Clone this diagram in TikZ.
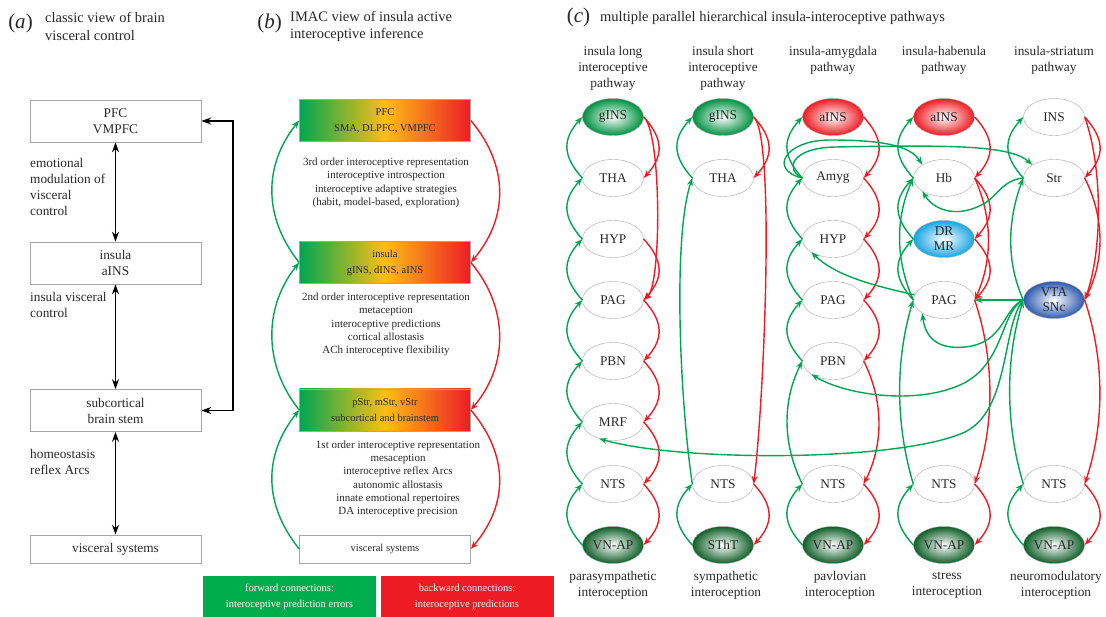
\documentclass[tikz,border=0pt]{standalone}
\usepackage{fontspec}
\setmainfont{Liberation Serif}
\usepackage{tikz}
\usetikzlibrary{shapes.geometric,arrows.meta}

\definecolor{igreen}{RGB}{0,166,81}
\definecolor{ired}{RGB}{237,28,36}
\definecolor{iyellow}{RGB}{253,190,20}
\definecolor{keygreen}{RGB}{0,173,76}
\definecolor{insgreen}{RGB}{0,145,65}
\definecolor{vngreen}{RGB}{15,95,40}
\definecolor{drblue}{RGB}{25,165,225}
\definecolor{vtablue}{RGB}{45,90,175}
\definecolor{txtgray}{RGB}{40,40,40}

\newcommand{\tagfont}{\fontsize{21}{22}\selectfont}
\newcommand{\ttlfont}{\fontsize{14.5}{17.5}\selectfont}
\newcommand{\labfont}{\fontsize{13.3}{16}\selectfont}
\newcommand{\twofont}{\fontsize{13.3}{15}\selectfont}
\newcommand{\boxfont}{\fontsize{10.5}{16}\selectfont}
\newcommand{\notefont}{\fontsize{11}{13.3}\selectfont}

\begin{document}
\begin{tikzpicture}[x=1pt,y=-1pt,
    tag/.style={font=\tagfont, inner sep=0pt, text=txtgray},
    ttl/.style={font=\ttlfont, align=left, anchor=west, inner sep=0pt, text=txtgray},
    lab/.style={font=\labfont, align=center, inner sep=0pt, text=txtgray},
    side/.style={font=\labfont, align=left, anchor=north west, inner sep=0pt, text=txtgray},
    note/.style={font=\notefont, align=center, inner sep=0pt, text=txtgray},
    abox/.style={draw=gray!70, line width=0.6pt, minimum width=171pt, minimum height=42pt,
        inner sep=0pt, align=center, font=\labfont, text=txtgray},
    gbox/.style={abox, font=\boxfont, left color=igreen, right color=ired, middle color=iyellow},
    key/.style={minimum width=173pt, minimum height=41pt, inner sep=0pt, align=center,
        font=\boxfont, text=white},
    area/.style={ellipse, draw=gray!70, line width=0.4pt, minimum width=61pt, minimum height=37pt,
        inner sep=0pt, align=center, font=\labfont, text=txtgray},
    gshade/.style={inner color=white, outer color=insgreen},
    dshade/.style={inner color=white, outer color=vngreen},
    rshade/.style={inner color=white, outer color=ired},
    lbshade/.style={inner color=white, outer color=drblue, font=\twofont},
    bshade/.style={inner color=white, outer color=vtablue, font=\twofont},
    both/.style={line width=1.8pt, {Stealth[length=10pt,width=7pt]}-{Stealth[length=10pt,width=7pt]}},
    fwd/.style={draw=igreen, line width=1.4pt, -{Stealth[length=8pt,width=6pt]}},
    bwd/.style={draw=ired, line width=1.4pt, -{Stealth[length=8pt,width=6pt]}}]
    \useasboundingbox (0,0) rectangle (1106,617);

    %%% (a) CLASSIC VIEW %%%
    \node[tag] (taga) at (20.5,23) {(\textit{a})};
    \node[ttl] (ttla) at (45,26.5) {classic view of brain\\visceral control};
    \node[abox] (pfca) at (115.5,121) {PFC\\VMPFC};
    \node[abox] (insa) at (115.5,263) {insula\\aINS};
    \node[abox] (suba) at (115.5,410.5) {subcortical\\brain stem};
    \node[abox, minimum height=28pt] (visa) at (115.5,549) {visceral systems};
    \node[side] (emo) at (30,158) {emotional\\modulation of\\visceral\\control};
    \node[side] (insctl) at (30,292) {insula visceral\\control};
    \node[side] (homeo) at (30,449) {homeostasis\\reflex Arcs};
    % arrows %
    \draw[both] (pfca) -- (insa);
    \draw[both] (insa) -- (suba);
    \draw[both] (suba) -- (visa);
    \draw[both] (pfca.east) -- ++(32,0) |- (suba.east);

    %%% (b) IMAC VIEW %%%
    \node[tag] (tagb) at (269.5,23) {(\textit{b})};
    \node[ttl] (ttlb) at (290,26.5) {IMAC view of insula active\\interoceptive inference};
    \node[gbox] (pfcb) at (385,120.5) {PFC\\SMA, DLPFC, VMPFC};
    \node[gbox] (insb) at (385,262.5) {insula\\gINS, dINS, aINS};
    \node[gbox] (subb) at (385,410) {pStr, mStr, vStr\\subcortical and brainstem};
    \node[abox, font=\boxfont, minimum height=28pt] (visb) at (385,549) {visceral systems};
    \node[note] (third) at (386,183) {3rd order interoceptive representation\\interoceptive introspection\\interoceptive adaptive strategies\\(habit, model-based, exploration)};
    \node[note] (second) at (386,324.5) {2nd order interoceptive representation\\metaception\\interoceptive predictions\\cortical allostasis\\ACh interoceptive flexibility};
    \node[note] (first) at (398,479) {1st order interoceptive representation\\mesaception\\interoceptive reflex Arcs\\autonomic allostasis\\innate emotional repertoires\\DA interoceptive precision};
    % loops %
    \draw[fwd] (insb.west) .. controls +(-36,-45) and +(-36,45) .. (pfcb.west);
    \draw[fwd] (subb.west) .. controls +(-36,-45) and +(-36,45) .. (insb.west);
    \draw[fwd] (visb.west) .. controls +(-36,-45) and +(-36,45) .. (subb.west);
    \draw[bwd] (pfcb.east) .. controls +(38,45) and +(38,-45) .. (insb.east);
    \draw[bwd] (insb.east) .. controls +(38,45) and +(38,-45) .. (subb.east);
    \draw[bwd] (subb.east) .. controls +(38,45) and +(38,-45) .. (visb.east);
    % legend %
    \node[key, fill=keygreen] (fwdkey) at (289.5,596.5) {forward connections:\\interoceptive prediction errors};
    \node[key, fill=ired] (bwdkey) at (467,596.5) {backward connections:\\interoceptive predictions};

    %%% (c) PARALLEL PATHWAYS %%%
    \node[tag] (tagc) at (578.5,17) {(\textit{c})};
    \node[ttl] (ttlc) at (600,18) {multiple parallel hierarchical insula-interoceptive pathways};
    % headers %
    \node[lab] (head1) at (613,68) {insula long\\interoceptive\\pathway};
    \node[lab] (head2) at (723,68) {insula short\\interoceptive\\pathway};
    \node[lab] (head3) at (833,60) {insula-amygdala\\pathway};
    \node[lab] (head4) at (944,60) {insula-habenula\\pathway};
    \node[lab] (head5) at (1054,60) {insula-striatum\\pathway};
    \node[lab] (foot1) at (613,585.5) {parasympathetic\\interoception};
    \node[lab] (foot2) at (726,585.5) {sympathetic\\interoception};
    \node[lab] (foot3) at (840,585.5) {pavlovian\\interoception};
    \node[lab] (foot4) at (947,585.5) {stress\\interoception};
    \node[lab] (foot5) at (1056,585.5) {neuromodulatory\\interoception};
    % column 1 %
    \node[area, gshade] (g1) at (613,117) {gINS};
    \node[area] (tha1) at (613,178) {THA};
    \node[area] (hyp1) at (613,239) {HYP};
    \node[area] (pag1) at (613,300) {PAG};
    \node[area] (pbn1) at (613,361) {PBN};
    \node[area] (mrf1) at (613,422) {MRF};
    \node[area] (nts1) at (613,484) {NTS};
    \node[area, dshade] (vn1) at (613,545) {VN-AP};
    % column 2 %
    \node[area, gshade] (g2) at (723,117) {gINS};
    \node[area] (tha2) at (723,178) {THA};
    \node[area] (nts2) at (723,484) {NTS};
    \node[area, dshade] (st2) at (723,545) {SThT};
    % column 3 %
    \node[area, rshade] (ains3) at (833,117) {aINS};
    \node[area] (amyg3) at (833,178) {Amyg};
    \node[area] (hyp3) at (833,239) {HYP};
    \node[area] (pag3) at (833,300) {PAG};
    \node[area] (pbn3) at (833,361) {PBN};
    \node[area] (nts3) at (833,484) {NTS};
    \node[area, dshade] (vn3) at (833,545) {VN-AP};
    % column 4 %
    \node[area, rshade] (ains4) at (944,117) {aINS};
    \node[area] (hb4) at (944,178) {Hb};
    \node[area, lbshade] (dr4) at (944,239) {DR\\MR};
    \node[area] (pag4) at (944,300) {PAG};
    \node[area] (nts4) at (944,484) {NTS};
    \node[area, dshade] (vn4) at (944,545) {VN-AP};
    % column 5 %
    \node[area] (ins5) at (1054,117) {INS};
    \node[area] (str5) at (1054,178) {Str};
    \node[area, bshade] (vta5) at (1054,300) {VTA\\SNc};
    \node[area] (nts5) at (1054,484) {NTS};
    \node[area, dshade] (vn5) at (1054,545) {VN-AP};

    % column 1 connections %
    \draw[fwd] (tha1.west) .. controls +(-20,-22) and +(-20,22) .. (g1.west);
    \draw[fwd] (hyp1.west) .. controls +(-20,-22) and +(-20,22) .. (tha1.west);
    \draw[fwd] (pag1.west) .. controls +(-20,-22) and +(-20,22) .. (hyp1.west);
    \draw[fwd] (pbn1.west) .. controls +(-20,-22) and +(-20,22) .. (pag1.west);
    \draw[fwd] (mrf1.west) .. controls +(-20,-22) and +(-20,22) .. (pbn1.west);
    \draw[fwd] (nts1.west) .. controls +(-20,-22) and +(-20,22) .. (mrf1.west);
    \draw[fwd] (vn1.west) .. controls +(-20,-22) and +(-20,22) .. (nts1.west);
    \draw[bwd] (g1.east) .. controls +(20,22) and +(20,-22) .. (tha1.east);
    \draw[bwd] (g1.east) .. controls +(18,15) and +(18,-15) .. (pag1.east);
    \draw[bwd] (hyp1.east) .. controls +(20,22) and +(20,-22) .. (pag1.east);
    \draw[bwd] (pag1.east) .. controls +(20,22) and +(20,-22) .. (pbn1.east);
    \draw[bwd] (pbn1.east) .. controls +(20,22) and +(20,-22) .. (mrf1.east);
    \draw[bwd] (mrf1.east) .. controls +(20,22) and +(20,-22) .. (nts1.east);
    \draw[bwd] (nts1.east) .. controls +(20,22) and +(20,-22) .. (vn1.east);
    % column 2 connections %
    \draw[fwd] (tha2.west) .. controls +(-20,-22) and +(-20,22) .. (g2.west);
    \draw[fwd] (nts2.west) .. controls +(-12,-80) and +(-20,60) .. (tha2.west);
    \draw[fwd] (st2.west) .. controls +(-20,-22) and +(-20,22) .. (nts2.west);
    \draw[bwd] (g2.east) .. controls +(20,22) and +(20,-22) .. (tha2.east);
    \draw[bwd] (g2.east) .. controls +(22,20) and +(10,-80) .. (nts2.east);
    \draw[bwd] (nts2.east) .. controls +(20,22) and +(20,-22) .. (st2.east);
    % column 3 connections %
    \draw[fwd] (amyg3.west) .. controls +(-20,-22) and +(-20,22) .. (ains3.west);
    \draw[fwd] (hyp3.west) .. controls +(-20,-22) and +(-20,22) .. (amyg3.west);
    \draw[fwd] (pag3.west) .. controls +(-20,-22) and +(-20,22) .. (hyp3.west);
    \draw[fwd] (pbn3.west) .. controls +(-20,-22) and +(-20,22) .. (pag3.west);
    \draw[fwd] (nts3.west) .. controls +(-20,-40) and +(-20,40) .. (pbn3.west);
    \draw[fwd] (vn3.west) .. controls +(-20,-22) and +(-20,22) .. (nts3.west);
    \draw[bwd] (ains3.east) .. controls +(20,22) and +(20,-22) .. (amyg3.east);
    \draw[bwd] (amyg3.east) .. controls +(20,22) and +(20,-22) .. (hyp3.east);
    \draw[bwd] (hyp3.east) .. controls +(20,22) and +(20,-22) .. (pag3.east);
    \draw[bwd] (pag3.east) .. controls +(20,22) and +(20,-22) .. (pbn3.east);
    \draw[bwd] (pbn3.east) .. controls +(20,40) and +(20,-40) .. (nts3.east);
    \draw[bwd] (nts3.east) .. controls +(20,22) and +(20,-22) .. (vn3.east);
    % column 4 connections %
    \draw[fwd] (hb4.west) .. controls +(-20,-22) and +(-20,22) .. (ains4.west);
    \draw[fwd] (dr4.west) .. controls +(-20,-22) and +(-20,22) .. (hb4.west);
    \draw[fwd] (pag4.west) .. controls +(-20,-22) and +(-20,22) .. (dr4.west);
    \draw[fwd] (pag4.west) .. controls +(-18,-40) and +(-18,40) .. (hb4.west);
    \draw[fwd] (nts4.west) .. controls +(-18,-60) and +(-18,60) .. (pag4.west);
    \draw[fwd] (vn4.west) .. controls +(-20,-22) and +(-20,22) .. (nts4.west);
    \draw[bwd] (ains4.east) .. controls +(20,22) and +(20,-22) .. (hb4.east);
    \draw[bwd] (hb4.east) .. controls +(20,22) and +(20,-22) .. (dr4.east);
    \draw[bwd] (hb4.east) .. controls +(18,40) and +(18,-40) .. (pag4.east);
    \draw[bwd] (dr4.east) .. controls +(20,22) and +(20,-22) .. (pag4.east);
    \draw[bwd] (pag4.east) .. controls +(20,60) and +(20,-60) .. (nts4.east);
    \draw[bwd] (nts4.east) .. controls +(20,22) and +(20,-22) .. (vn4.east);
    % column 5 connections %
    \draw[fwd] (str5.west) .. controls +(-20,-22) and +(-20,22) .. (ins5.west);
    \draw[fwd] (vta5.west) .. controls +(-18,-40) and +(-15,40) .. (str5.west);
    \draw[fwd] (nts5.west) .. controls +(-18,-60) and +(-18,60) .. (vta5.west);
    \draw[fwd] (vn5.west) .. controls +(-20,-22) and +(-20,22) .. (nts5.west);
    \draw[bwd] (ins5.east) .. controls +(20,22) and +(20,-22) .. (str5.east);
    \draw[bwd] (ins5.east) .. controls +(18,50) and +(18,-50) .. (vta5.east);
    \draw[bwd] (str5.east) .. controls +(20,40) and +(20,-40) .. (vta5.east);
    \draw[bwd] (vta5.east) .. controls +(20,60) and +(20,-60) .. (nts5.east);
    \draw[bwd] (nts5.east) .. controls +(20,22) and +(20,-22) .. (vn5.east);
    % across pathways %
    \draw[fwd] (amyg3.west) .. controls (768,170) and (785,140) .. (830,140) .. controls (880,140) and (910,145) .. (hb4.north west);
    \draw[fwd] (amyg3.west) .. controls (785,170) and (790,148) .. (835,147) .. controls (950,145) and (1010,145) .. (str5.north west);
    \draw[fwd] (str5.west) .. controls (1003,180) and (998,195) .. (985,203) .. controls (960,218) and (935,212) .. (hb4.south west);
    \draw[fwd] (pag4.170) .. controls (870,285) and (835,275) .. (hyp3.south west);
    \draw[fwd] (vta5.west) -- (pag4.east);
    \draw[fwd] (vta5.west) .. controls (1003,308) and (1005,343) .. (965,347) .. controls (935,350) and (925,335) .. (pag4.south west);
    \draw[fwd] (vta5.west) .. controls (1000,312) and (1005,365) .. (960,385) .. controls (915,405) and (845,395) .. (pbn3.south west);
    \draw[fwd] (vta5.west) .. controls (1002,325) and (1010,410) .. (965,432) .. controls (900,462) and (680,462) .. (mrf1.230);
\end{tikzpicture}
\end{document}
